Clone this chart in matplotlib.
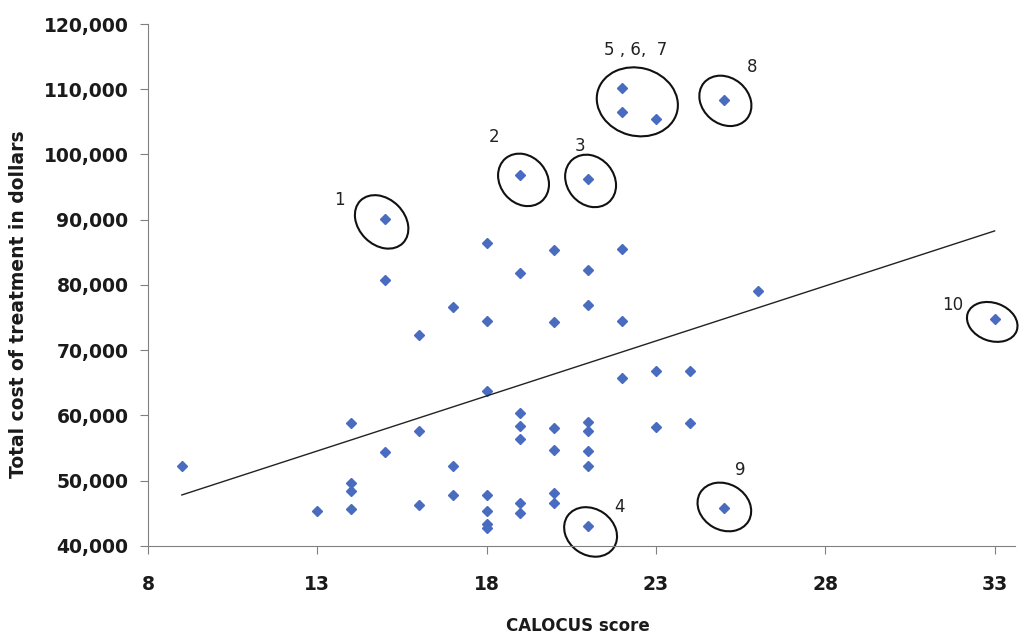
import numpy as np
import matplotlib.pyplot as plt
from matplotlib.patches import Ellipse
from matplotlib import transforms

# CALOCUS score vs total cost of treatment
calocus = [9, 13, 14, 14, 14, 14, 15, 15, 15, 16, 16, 16,
           17, 17, 17, 18, 18, 18, 18, 18, 18, 18,
           19, 19, 19, 19, 19, 19, 19,
           20, 20, 20, 20, 20, 20,
           21, 21, 21, 21, 21, 21, 21, 21,
           22, 22, 22, 22, 22, 23, 23, 23, 24, 24, 25, 25, 26, 33]
cost = [52300, 45400, 58800, 49700, 48400, 45700, 90100, 80800, 54400, 72300, 57600, 46300,
        76600, 52300, 47800, 86400, 74500, 63800, 47800, 45400, 43300, 42700,
        96900, 81800, 60400, 58400, 56400, 46600, 45100,
        85400, 74300, 58100, 54700, 48100, 46600,
        96200, 82300, 76900, 59000, 57600, 54600, 52300, 43100,
        110200, 106500, 85500, 74500, 65700, 105400, 66800, 58200, 66800, 58900, 108400, 45800, 79100, 74800]

# circled outliers: label text, ellipse centre (data), text centre (data)
outlier_labels = ['1', '2', '3', '4', '5 , 6,  7', '8', '9', '10']
ellipse_x = [14.9, 19.09, 21.07, 21.07, 22.45, 25.05, 25.02, 32.93]
ellipse_y = [89670, 96110, 95950, 42150, 108070, 108220, 45980, 74340]
label_x = [13.66, 18.21, 20.77, 21.92, 22.40, 25.85, 25.49, 31.75]
label_y = [93040, 102700, 101320, 45980, 116040, 113430, 51650, 76950]
# ellipse size in pixels (w, h, angle)
ellipse_shape = [(60, 46, -45), (56, 47, -50), (56, 47, -50), (56, 46, -35),
                 (82, 68, -15), (56, 46, -40), (56, 46, -30), (52, 38, -20)]

fig = plt.figure(figsize=(10.19, 6.35), dpi=100)
ax = fig.add_axes([0.1452, 0.1402, 0.8508, 0.822])

ax.plot(calocus, cost, linestyle='none', marker='D', markersize=5.5,
        color='#4a6cc0', markeredgecolor='#4a6cc0')

# linear trendline over the data range
slope, intercept = np.polyfit(calocus, cost, 1)
xs = np.array([min(calocus), max(calocus)])
ax.plot(xs, slope * xs + intercept, color='#222222', linewidth=1.0)

for i, lab in enumerate(outlier_labels):
    w, h, ang = ellipse_shape[i]
    tr = fig.dpi_scale_trans + transforms.ScaledTranslation(ellipse_x[i], ellipse_y[i], ax.transData)
    ax.add_patch(Ellipse((0, 0), w / 100, h / 100, angle=ang, transform=tr,
                         fill=False, edgecolor='#111111', linewidth=1.5, clip_on=False))
    ax.text(label_x[i], label_y[i], lab, ha='center', va='center', fontsize=12,
            color='#222222')

ax.set_xlim(8, 33.6)
ax.set_ylim(40000, 120000)
ax.set_xticks([8, 13, 18, 23, 28, 33])
ax.set_yticks(range(40000, 120001, 10000))
ax.set_yticklabels(['{:,}'.format(v) for v in range(40000, 120001, 10000)])

for s in ['top', 'right']:
    ax.spines[s].set_visible(False)
for s in ['left', 'bottom']:
    ax.spines[s].set_color('#808080')
ax.tick_params(direction='out', length=6, color='#808080', labelsize=13.5)
ax.tick_params(axis='x', pad=15)
ax.tick_params(axis='y', pad=8)
for t in ax.get_xticklabels() + ax.get_yticklabels():
    t.set_fontweight('bold')
    t.set_color('#1a1a1a')

ax.set_xlabel('CALOCUS score', fontsize=12, fontweight='bold', color='#1a1a1a')
ax.set_ylabel('Total cost of treatment in dollars', fontsize=13.5, fontweight='bold',
              color='#1a1a1a')
ax.xaxis.set_label_coords(0.496, -0.136)
ax.yaxis.set_label_coords(-0.138, 0.464)

fig.savefig('out.png', dpi=100)
